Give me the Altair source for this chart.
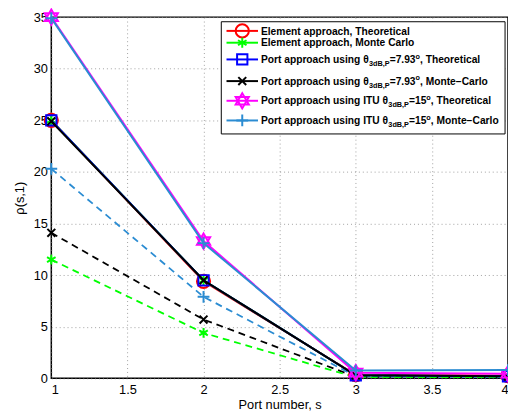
import altair as alt
import pandas as pd

# ---------------- data ----------------
ports = [1, 2, 3, 4]

elem_theo = [25.0, 9.4, 0.35, 0.25]
elem_mc = [25.0, 9.5, 0.3, 0.2]
port793_theo = [25.0, 9.5, 0.3, 0.2]
port793_mc = [24.9, 9.5, 0.3, 0.2]
itu15_theo = [35.0, 13.3, 0.55, 0.45]
itu15_mc = [34.9, 13.1, 0.75, 0.8]

# dashed curves (not in legend)
dash_itu15 = [20.3, 7.9, 0.2, 0.1]
dash_port793 = [14.1, 5.7, 0.15, 0.1]
dash_elem = [11.5, 4.4, 0.1, 0.1]

legend_rows = [
    [("Element approach, Theoretical", "n")],
    [("Element approach, Monte Carlo", "n")],
    [("Port approach using θ", "n"), ("3dB,P", "b"), ("=7.93", "n"), ("o", "p"), (", Theoretical", "n")],
    [("Port approach using θ", "n"), ("3dB,P", "b"), ("=7.93", "n"), ("o", "p"), (", Monte\u2212Carlo", "n")],
    [("Port approach using ITU θ", "n"), ("3dB,P", "b"), ("=15", "n"), ("o", "p"), (", Theoretical", "n")],
    [("Port approach using ITU θ", "n"), ("3dB,P", "b"), ("=15", "n"), ("o", "p"), (", Monte\u2212Carlo", "n")],
]

# ---------------- styles ----------------
LBLUE = "#2b8cd2"
SH_AST = "M0,-1L0,1M-0.866,-0.5L0.866,0.5M-0.866,0.5L0.866,-0.5"
SH_X = "M-1,-1L1,1M-1,1L1,-1"
SH_PLUS = "M0,-1L0,1M-1,0L1,0"
SH_HEX = "M0,-1L0.866,0.5L-0.866,0.5ZM0,1L-0.866,-0.5L0.866,-0.5Z"

# (values, color, shape, size, dashed)
solid_series = [
    (elem_theo, "#ff0000", "circle", 180, False),
    (elem_mc, "#00ff00", SH_AST, 100, False),
    (port793_theo, "#0000ff", "square", 110, False),
    (port793_mc, "#000000", SH_X, 64, False),
    (itu15_theo, "#ff00ff", SH_HEX, 240, False),
    (itu15_mc, LBLUE, SH_PLUS, 144, False),
]
dashed_series = [
    (dash_itu15, LBLUE, SH_PLUS, 144, True),
    (dash_port793, "#000000", SH_X, 64, True),
    (dash_elem, "#00ff00", SH_AST, 100, True),
]

W, H = 464, 367
FONT = "Liberation Sans"

xs = alt.Scale(domain=[1, 4], nice=False, zero=False)
ys = alt.Scale(domain=[0, 35], nice=False)

layers = []
first = True
for vals, col, shp, sz, dashed in dashed_series + solid_series:
    df = pd.DataFrame({"x": ports, "y": vals})
    if first:
        xenc = alt.X("x:Q", scale=xs, axis=alt.Axis(
            values=[1, 1.5, 2, 2.5, 3, 3.5, 4], format="~g", title="Port number, s",
            ticks=False, domain=False, labelPadding=5, titleY=31,
            titleBaseline="alphabetic"))
        yenc = alt.Y("y:Q", scale=ys, axis=alt.Axis(
            values=[0, 5, 10, 15, 20, 25, 30, 35], title="ρ(s,1)", ticks=False,
            domain=False, labelPadding=4, titleX=-32, titleY=H / 2,
            titleBaseline="middle", titleAlign="center"))
        first = False
    else:
        xenc = alt.X("x:Q", scale=xs)
        yenc = alt.Y("y:Q", scale=ys)
    base = alt.Chart(df)
    line_kw = dict(color=col, strokeWidth=1.8 if dashed else 2.0, clip=True)
    if dashed:
        line_kw["strokeDash"] = [7, 5]
    layers.append(base.mark_line(**line_kw).encode(x=xenc, y=yenc))
    layers.append(base.mark_point(shape=shp, filled=False, size=sz, strokeWidth=2,
                                  color=col, opacity=1, clip=False).encode(x=xenc, y=yenc))

# ---------------- manual legend (pixel layout relative to plot origin) ----------------
OX, OY = 52, 14
LX0, LY0, LX1, LY1 = 224.7 - OX, 18.7 - OY, 513 - OX, 132.7 - OY
row_cy = [28, 40, 57, 79, 99, 119]
one = alt.Data(values=[{"a": 1}])

layers.append(alt.Chart(one).mark_rect(fill="white", stroke="black", strokeWidth=1).encode(
    x=alt.value(LX0), x2=alt.value(LX1), y=alt.value(LY0), y2=alt.value(LY1)))

AW = {' ': 278, ',': 278, '-': 333, '.': 278, '=': 584, '\u2212': 584, 'θ': 556,
      'A': 722, 'B': 722, 'C': 722, 'E': 667, 'I': 278, 'M': 833, 'P': 667, 'T': 611, 'U': 722,
      'a': 556, 'b': 611, 'c': 556, 'd': 611, 'e': 556, 'g': 611, 'h': 611, 'i': 278, 'l': 278,
      'm': 889, 'n': 611, 'o': 611, 'p': 611, 'r': 389, 's': 556, 't': 333, 'u': 611}


def tw(s, fs):
    return sum(AW.get(c, 556) for c in s) * fs / 1000.0


FS, FSS = 10.4, 7.4
for (vals, col, shp, sz, _), segs, cy in zip(solid_series, legend_rows, row_cy):
    yy = cy - OY
    layers.append(alt.Chart(one).mark_rule(color=col, strokeWidth=2).encode(
        x=alt.value(230 - OX), x2=alt.value(262 - OX), y=alt.value(yy)))
    layers.append(alt.Chart(one).mark_point(shape=shp, filled=False, size=sz, strokeWidth=2,
                                            color=col, opacity=1).encode(
        x=alt.value(246 - OX), y=alt.value(yy)))
    px = 265 - OX
    base_y = yy + 3.7
    for txt, kind in segs:
        fs = FS if kind == "n" else FSS
        ty = base_y + (3.0 if kind == "b" else (-4.5 if kind == "p" else 0))
        layers.append(alt.Chart(one).mark_text(
            text=txt, font=FONT, fontSize=fs, fontWeight="bold", align="left",
            baseline="alphabetic", color="black").encode(x=alt.value(px), y=alt.value(ty)))
        px += tw(txt, fs)

chart = alt.layer(*layers).properties(
    width=W, height=H,
    autosize=alt.AutoSizeParams(type="none"),
    padding={"left": 44, "top": 6, "right": 0, "bottom": 35},
).configure_view(stroke="black", strokeWidth=1.5).configure_axis(
    labelFont=FONT, titleFont=FONT, labelFontSize=13, titleFontSize=13,
    labelColor="black", titleColor="black", titleFontWeight="normal",
    grid=True, gridColor="#888888", gridDash=[1, 3], gridWidth=0.8,
)

chart.save("out.html", embed_options={"renderer": "svg", "actions": False})
